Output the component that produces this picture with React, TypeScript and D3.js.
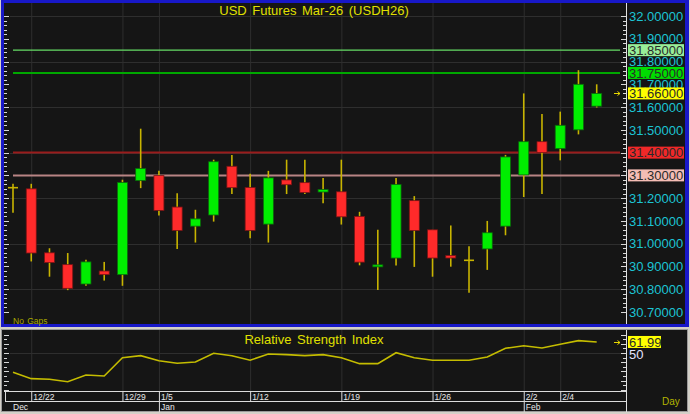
import React, { useEffect, useRef } from 'react';
import * as d3 from 'd3';

// trading days shown on the chart
const dates = ['12/19', '12/22', '12/23', '12/24', '12/25', '12/26', '12/29', '12/30',
    '1/5', '1/6', '1/7', '1/8', '1/9', '1/12', '1/13', '1/14', '1/15', '1/16',
    '1/19', '1/20', '1/21', '1/22', '1/23', '1/26', '1/27', '1/28', '1/29', '1/30',
    '2/2', '2/3', '2/4', '2/5', '2/6'];

const opens = [31.246, 31.241, 30.96, 30.908, 30.823, 30.88, 30.864, 31.277, 31.299, 31.161, 31.077,
    31.126, 31.34, 31.247, 31.086, 31.28, 31.268, 31.227, 31.228, 31.12, 30.9, 30.937, 31.189,
    31.061, 30.948, 30.927, 30.977, 31.077, 31.302, 31.448, 31.418, 31.5, 31.604];
const highs = [31.263, 31.263, 30.98, 30.959, 30.929, 30.92, 31.281, 31.505, 31.32, 31.221, 31.149,
    31.369, 31.39, 31.307, 31.32, 31.369, 31.369, 31.289, 31.369, 31.14, 31.061, 31.289, 31.209,
    31.061, 31.08, 30.989, 31.1, 31.39, 31.66, 31.57, 31.58, 31.762, 31.7];
const lows = [31.136, 30.922, 30.855, 30.796, 30.815, 30.838, 30.815, 31.244, 31.124, 30.977, 31.005,
    31.097, 31.218, 31.024, 31.005, 31.218, 31.218, 31.178, 31.084, 30.905, 30.797, 30.904, 30.898,
    30.855, 30.899, 30.785, 30.885, 31.037, 31.205, 31.218, 31.366, 31.48, 31.598];
const closes = [31.246, 30.959, 30.917, 30.804, 30.92, 30.864, 31.269, 31.33, 31.146, 31.058, 31.109,
    31.36, 31.246, 31.058, 31.289, 31.259, 31.225, 31.238, 31.118, 30.919, 30.907, 31.26, 31.058,
    30.937, 30.937, 30.927, 31.048, 31.381, 31.448, 31.4, 31.52, 31.7, 31.66];

const rsi = [29.0, 22.1, 21.4, 18.8, 26.1, 25.0, 44.9, 47.1, 41.6, 38.8, 40.2, 49.7, 47.1, 42.1,
    48.9, 48.2, 47.1, 48.2, 44.9, 38.4, 38.4, 50.3, 44.9, 42.1, 42.1, 42.1, 45.7, 55.1, 57.9,
    55.4, 59.5, 63.4, 61.99];

// horizontal levels drawn across the price panel
const levelValues = [31.85, 31.75, 31.4, 31.3];
const levelColors = ['#66dd66', '#00a800', '#9a1c1c', '#b88484'];
const levelBoxColors = ['#98ee98', '#00dd00', '#f02828', '#f4bcb4'];

const weekTicks = ['12/22', '12/29', '1/5', '1/12', '1/19', '1/26', '2/2', '2/4'];
const monthTicks = [{ at: '12/19', label: 'Dec' }, { at: '1/5', label: 'Jan' }, { at: '2/2', label: 'Feb' }];

const FONT = 'Arial, "Liberation Sans", sans-serif';

export default function App() {
    const svgRef = useRef<SVGSVGElement>(null);

    useEffect(() => {
        const svg = d3.select(svgRef.current);
        svg.selectAll('*').remove();

        const x = d3.scalePoint<string>().domain(dates).range([13, 596.7]);
        const y = d3.scaleLinear().domain([30.7, 32.0]).range([312, 16]);
        const yr = d3.scaleLinear().domain([10, 70]).range([389.8, 334.6]);
        const fmt = d3.format('.5f');

        // frames
        svg.append('rect').attr('width', 690).attr('height', 414).attr('fill', '#d4d0c8');
        svg.append('rect').attr('x', 1).attr('y', 0).attr('width', 688).attr('height', 327).attr('fill', '#1818c8');
        svg.append('rect').attr('x', 4).attr('y', 3).attr('width', 681).attr('height', 321).attr('fill', '#151515');
        svg.append('rect').attr('x', 1.5).attr('y', 329.5).attr('width', 686).attr('height', 82)
            .attr('fill', '#151515').attr('stroke', '#9a9a9a');

        const g = svg.append('g');

        // grid
        g.selectAll('.vgrid').data(weekTicks).join('line')
            .attr('x1', d => x(d)! + 0.5).attr('x2', d => x(d)! + 0.5)
            .attr('y1', 3).attr('y2', 324).attr('stroke', '#2e2e2e');
        g.selectAll('.hgrid').data(y.ticks(7)).join('line')
            .attr('x1', 10).attr('x2', 626).attr('y1', d => Math.round(y(d)) + 0.5).attr('y2', d => Math.round(y(d)) + 0.5)
            .attr('stroke', '#2e2e2e');
        g.selectAll('.rvgrid').data(weekTicks).join('line')
            .attr('x1', d => x(d)! + 0.5).attr('x2', d => x(d)! + 0.5)
            .attr('y1', 330).attr('y2', 391).attr('stroke', '#2e2e2e');
        g.append('line').attr('x1', 10).attr('x2', 626).attr('y1', Math.round(yr(50)) + 0.5).attr('y2', Math.round(yr(50)) + 0.5)
            .attr('stroke', '#2e2e2e');

        // rulers
        const minor = d3.range(0, 66).map(i => 30.7 + i * 0.02).filter(v => y(v) > 4);
        const ruler = (sel, vals, sc, x0, dir, isMajor) => {
            sel.selectAll(null).data(vals).join('line')
                .attr('x1', x0).attr('x2', (d, i) => x0 + dir * (isMajor(d, i) ? 5 : 3))
                .attr('y1', d => Math.round(sc(d)) + 0.5).attr('y2', d => Math.round(sc(d)) + 0.5)
                .attr('stroke', '#d8d8d8');
        };
        const majP = (d) => Math.abs(d * 10 - Math.round(d * 10)) < 0.01;
        ruler(g, minor, y, 4, 1, majP);
        ruler(g, minor, y, 626, -1, majP);
        const rMinor = d3.range(10, 75, 5);
        const majR = (d) => d % 10 === 0;
        ruler(g, rMinor, yr, 4, 1, majR);
        ruler(g, rMinor, yr, 626, -1, majR);

        g.append('line').attr('x1', 626.5).attr('x2', 626.5).attr('y1', 3).attr('y2', 324).attr('stroke', '#e0e0e0');
        g.append('line').attr('x1', 626.5).attr('x2', 626.5).attr('y1', 330).attr('y2', 412).attr('stroke', '#e0e0e0');

        // price labels
        g.selectAll('.plab').data(y.ticks(13)).join('text')
            .attr('x', 629).attr('y', d => y(d)).attr('dy', '0.36em')
            .attr('font-family', FONT).attr('font-size', 13).attr('fill', '#1cc4d4')
            .text(d => fmt(d));

        // level lines
        levelValues.forEach((v, i) => {
            g.append('line').attr('x1', 13).attr('x2', 620).attr('y1', y(v)).attr('y2', y(v))
                .attr('stroke', levelColors[i]).attr('stroke-width', i === 0 ? 1.2 : 2);
        });

        const boxLabel = (val, yy, color, w, txt) => {
            g.append('rect').attr('x', 628).attr('y', yy - 6).attr('width', w).attr('height', 12).attr('fill', color);
            g.append('text').attr('x', 629).attr('y', yy).attr('dy', '0.36em')
                .attr('font-family', FONT).attr('font-size', 13).attr('fill', '#2a2a2a').text(txt);
        };
        levelValues.forEach((v, i) => boxLabel(v, y(v), levelBoxColors[i], 56, fmt(v)));
        const last = closes[closes.length - 1];
        boxLabel(last, y(last), '#ffff00', 56, fmt(last));

        const arrow = (yy) => {
            g.append('path').attr('d', `M614,${yy}H620M617.5,${yy - 2}L620,${yy}L617.5,${yy + 2}`)
                .attr('stroke', '#e8d800').attr('fill', 'none').attr('stroke-width', 1);
        };
        arrow(Math.round(y(last)) + 0.5);

        // candles
        const bw = 10;
        dates.forEach((d, i) => {
            const cx = x(d)!;
            const o = opens[i], c = closes[i];
            g.append('line').attr('x1', cx).attr('x2', cx).attr('y1', y(highs[i])).attr('y2', y(lows[i]))
                .attr('stroke', '#c8b400').attr('stroke-width', 1.6);
            if (o === c) {
                g.append('line').attr('x1', cx - bw / 2).attr('x2', cx + bw / 2).attr('y1', y(o)).attr('y2', y(o))
                    .attr('stroke', '#c8b400').attr('stroke-width', 1.6);
                return;
            }
            const up = c > o;
            const top = y(Math.max(o, c));
            const h = Math.max(2, y(Math.min(o, c)) - top);
            g.append('rect').attr('x', cx - bw / 2).attr('y', top).attr('width', bw).attr('height', h)
                .attr('fill', up ? '#00ee00' : '#ff2a2a')
                .attr('stroke', up ? '#0a6a0a' : '#7a1414').attr('stroke-width', 0.8);
        });

        // titles
        svg.append('text').attr('x', 314).attr('y', 15).attr('text-anchor', 'middle')
            .attr('font-family', FONT).attr('font-size', 13).attr('fill', '#e0e000').attr('word-spacing', 2)
            .text('USD Futures Mar-26 (USDH26)');
        svg.append('text').attr('x', 13).attr('y', 324).attr('font-family', FONT).attr('font-size', 8.5)
            .attr('fill', '#a8a800').attr('word-spacing', 1).text('No Gaps');

        // RSI
        const line = d3.line<number>().x((d, i) => x(dates[i])!).y(d => yr(d));
        g.append('path').datum(rsi).attr('fill', 'none').attr('stroke', '#c4bc00').attr('stroke-width', 1.6)
            .attr('d', line);
        svg.append('text').attr('x', 314).attr('y', 344).attr('text-anchor', 'middle')
            .attr('font-family', FONT).attr('font-size', 13).attr('fill', '#e0e000').attr('word-spacing', 2)
            .text('Relative Strength Index');

        const lastR = rsi[rsi.length - 1];
        arrow(Math.round(yr(lastR)) + 0.5);
        g.append('rect').attr('x', 628).attr('y', yr(lastR) - 6).attr('width', 33).attr('height', 12).attr('fill', '#ffff00');
        g.append('text').attr('x', 629).attr('y', yr(lastR)).attr('dy', '0.36em')
            .attr('font-family', FONT).attr('font-size', 13).attr('fill', '#2a2a2a').text(lastR.toFixed(2));
        g.append('text').attr('x', 629).attr('y', yr(50) + 1).attr('dy', '0.36em')
            .attr('font-family', FONT).attr('font-size', 13).attr('fill', '#e4e4ff').text('50');
        g.append('text').attr('x', 662).attr('y', 405).attr('font-family', FONT).attr('font-size', 10)
            .attr('fill', '#b4b400').text('Day');

        // date strip
        const strip = svg.append('g').attr('stroke', '#dcdcdc');
        strip.append('line').attr('x1', 4).attr('x2', 626).attr('y1', 391.5).attr('y2', 391.5);
        strip.append('line').attr('x1', 5).attr('x2', 626).attr('y1', 401.5).attr('y2', 401.5);
        strip.append('line').attr('x1', 5.5).attr('x2', 5.5).attr('y1', 391).attr('y2', 401);
        strip.selectAll(null).data(weekTicks).join('line')
            .attr('x1', d => x(d)! + 0.5).attr('x2', d => x(d)! + 0.5)
            .attr('y1', 391).attr('y2', d => (monthTicks.some(m => m.at === d) ? 412 : 401));

        svg.append('g').selectAll('text').data(weekTicks).join('text')
            .attr('x', d => x(d)! + 2).attr('y', 400).attr('font-family', FONT).attr('font-size', 8.5)
            .attr('fill', '#e8e8e8').text(d => d);
        svg.append('g').selectAll('text').data(monthTicks).join('text')
            .attr('x', (d, i) => (i === 0 ? 13 : x(d.at)! + 2)).attr('y', 410).attr('font-family', FONT)
            .attr('font-size', 8.5).attr('fill', '#e8e8e8').text(d => d.label);
    }, []);

    return <svg ref={svgRef} width={690} height={414}
        style={{ position: 'absolute', left: 0, top: 0, display: 'block' }} />;
}
